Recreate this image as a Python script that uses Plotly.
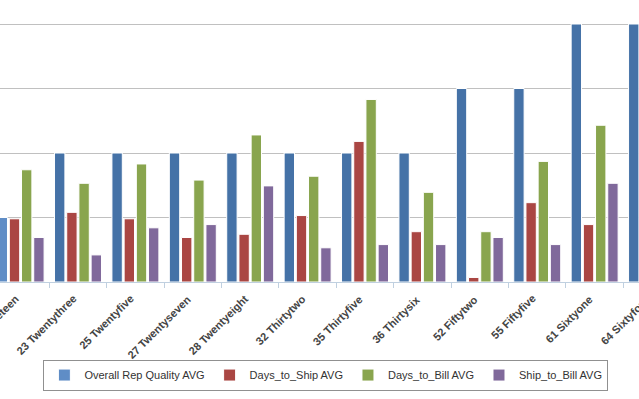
import plotly.graph_objects as go

categories = ["19 Nineteen", "23 Twentythree", "25 Twentyfive", "27 Twentyseven",
              "28 Twentyeight", "32 Thirtytwo", "35 Thirtyfive", "36 Thirtysix",
              "52 Fiftytwo", "55 Fiftyfive", "61 Sixtyone", "64 Sixtyfour"]

overall_rep_quality = [1, 2, 2, 2, 2, 2, 2, 2, 3, 3, 4, 4]
days_to_ship = [0.98, 1.08, 0.98, 0.69, 0.74, 1.03, 2.18, 0.78, 0.07, 1.23, 0.89, 1.0]
days_to_bill = [1.74, 1.53, 1.83, 1.58, 2.28, 1.64, 2.83, 1.39, 0.78, 1.87, 2.43, 2.0]
ship_to_bill = [0.69, 0.42, 0.84, 0.89, 1.49, 0.53, 0.58, 0.58, 0.69, 0.58, 1.53, 1.2]

series = [
    ("Overall Rep Quality AVG", overall_rep_quality, "#4572A7"),
    ("Days_to_Ship AVG", days_to_ship, "#AA4643"),
    ("Days_to_Bill AVG", days_to_bill, "#89A54E"),
    ("Ship_to_Bill AVG", ship_to_bill, "#80699B"),
]

W, H = 639, 399
x_range = [-0.359, 10.773]
y_range = [0, 4.031]

fig = go.Figure()
for i, (name, vals, color) in enumerate(series):
    colors = [color] * len(vals)
    if i == 0:
        colors[0] = "#5F8DC6"  # hovered point
    fig.add_trace(go.Bar(
        x=categories, y=vals, name=name,
        marker=dict(color=colors, line=dict(color="white", width=1)),
    ))

label_font = dict(family="Liberation Sans", size=11, color="#444444", weight="bold")

fig.update_layout(
    width=W, height=H,
    margin=dict(l=0, r=0, t=22, b=117, autoexpand=False),
    paper_bgcolor="white", plot_bgcolor="white",
    barmode="group", bargap=0.15, bargroupgap=0.15,
    showlegend=True,
    legend=dict(
        orientation="h", xref="container", yref="container",
        x=0.51, xanchor="center", y=0.06, yanchor="middle",
        bordercolor="#909090", borderwidth=1, bgcolor="white",
        font=dict(family="Liberation Sans", size=11, color="#333333"),
        traceorder="normal",
    ),
    xaxis=dict(
        type="category", range=x_range, automargin=False,
        showline=True, linecolor="#C0D0E0", linewidth=1,
        ticks="outside", ticklen=5, tickcolor="#C0D0E0", tickson="boundaries",
        showticklabels=False,
        showgrid=False, zeroline=False, fixedrange=True,
    ),
    yaxis=dict(
        range=y_range, showticklabels=False, ticks="", automargin=False,
        showgrid=True, gridcolor="#C0C0C0", gridwidth=1, dtick=1,
        zeroline=False, showline=False, fixedrange=True,
    ),
)

# rotated category labels (the last one sits one category step beyond the visible range)
px_per_cat = W / (x_range[1] - x_range[0])
for i, cat in enumerate(categories):
    anchor_cat = cat if i < len(categories) - 1 else categories[-2]
    extra = 0 if i < len(categories) - 1 else px_per_cat
    fig.add_annotation(
        x=anchor_cat, y=0, xref="x", yref="y",
        text=cat, showarrow=False, textangle=-45,
        xanchor="right", yanchor="top", xshift=3 + extra, yshift=-8,
        font=label_font,
    )

fig.write_html(
    "out.html",
    config={"displayModeBar": False},
    post_script="document.body.style.margin='0';document.body.style.overflow='hidden';",
)
